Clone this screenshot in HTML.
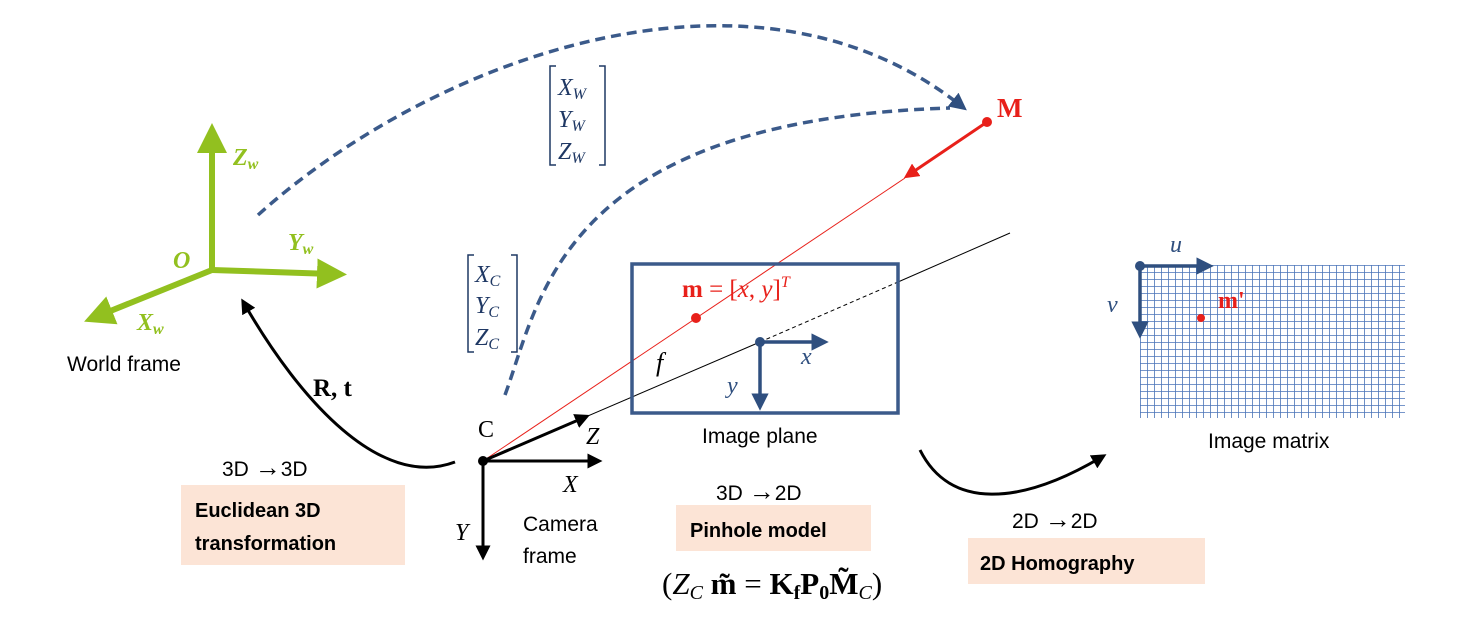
<!DOCTYPE html>
<html><head><meta charset="utf-8"><style>
body{margin:0;background:#fff;width:1461px;height:620px;overflow:hidden}
svg text{font-family:"Liberation Sans",sans-serif}
.s{font-family:"Liberation Serif",serif}
</style></head><body>
<svg width="1461" height="620" viewBox="0 0 1461 620" xmlns="http://www.w3.org/2000/svg">
<defs>
<marker id="ag" markerWidth="5" markerHeight="5" refX="2.5" refY="2.5" orient="auto" markerUnits="strokeWidth"><path d="M0,0L5,2.5L0,5z" fill="#92c01f"/></marker>
<marker id="ab" markerWidth="5" markerHeight="5" refX="2.5" refY="2.5" orient="auto" markerUnits="strokeWidth"><path d="M0,0L5,2.5L0,5z" fill="#2f4f7f"/></marker>
<marker id="ak" markerWidth="5" markerHeight="5" refX="2.5" refY="2.5" orient="auto" markerUnits="strokeWidth"><path d="M0,0L5,2.5L0,5z" fill="#000"/></marker>
<marker id="ar" markerWidth="5" markerHeight="5" refX="2.5" refY="2.5" orient="auto" markerUnits="strokeWidth"><path d="M0,0L5,2.5L0,5z" fill="#e8201a"/></marker>
<pattern id="grid" width="7" height="7" patternUnits="userSpaceOnUse" x="1140" y="265"><rect width="7" height="7" fill="#fff"/><path d="M0,0V7M0,0H7" stroke="#4a74b8" stroke-width="1.6"/></pattern>
</defs>
<g>
<line x1="212" y1="270" x2="212" y2="138" stroke="#92c01f" stroke-width="6" marker-end="url(#ag)"/>
<line x1="212" y1="270" x2="332" y2="274" stroke="#92c01f" stroke-width="6" marker-end="url(#ag)"/>
<line x1="212" y1="270" x2="98" y2="316" stroke="#92c01f" stroke-width="6" marker-end="url(#ag)"/>
<text class="s" x="233" y="165" font-size="24" font-weight="bold" font-style="italic" fill="#92c01f">Z<tspan font-size="16" dy="4">w</tspan></text>
<text class="s" x="288" y="250" font-size="24" font-weight="bold" font-style="italic" fill="#92c01f">Y<tspan font-size="16" dy="4">w</tspan></text>
<text class="s" x="173" y="268" font-size="24" font-weight="bold" font-style="italic" fill="#92c01f">O</text>
<text class="s" x="137" y="330" font-size="24" font-weight="bold" font-style="italic" fill="#92c01f">X<tspan font-size="16" dy="4">w</tspan></text>
<text x="67" y="371" font-size="21" fill="#000">World frame</text>
</g>
<path d="M258,215 C430,60 750,-60 960,105" fill="none" stroke="#3b5a8a" stroke-width="3.5" stroke-dasharray="10,6" marker-end="url(#ab)"/>
<path d="M505,395 C540,300 560,120 950,108" fill="none" stroke="#3b5a8a" stroke-width="3.5" stroke-dasharray="10,6"/>
<g fill="#1f3864">
<path d="M556,66H550V165H556M599,66H605V165H599" fill="none" stroke="#1f3864" stroke-width="1.5"/>
<text class="s" x="558" y="95" font-size="24" font-style="italic">X<tspan font-size="16" dy="4">W</tspan></text>
<text class="s" x="558" y="127" font-size="24" font-style="italic">Y<tspan font-size="16" dy="4">W</tspan></text>
<text class="s" x="558" y="159" font-size="24" font-style="italic">Z<tspan font-size="16" dy="4">W</tspan></text>
</g>
<g fill="#1f3864">
<path d="M474,255H468V352H474M511,255H517V352H511" fill="none" stroke="#1f3864" stroke-width="1.5"/>
<text class="s" x="475" y="282" font-size="24" font-style="italic">X<tspan font-size="16" dy="4">C</tspan></text>
<text class="s" x="475" y="313" font-size="24" font-style="italic">Y<tspan font-size="16" dy="4">C</tspan></text>
<text class="s" x="475" y="345" font-size="24" font-style="italic">Z<tspan font-size="16" dy="4">C</tspan></text>
</g>
<line x1="483" y1="461" x2="760" y2="342" stroke="#000" stroke-width="1"/>
<line x1="760" y1="342" x2="898" y2="282" stroke="#000" stroke-width="1" stroke-dasharray="4,3"/>
<line x1="898" y1="282" x2="1010" y2="233" stroke="#000" stroke-width="1"/>
<line x1="483" y1="461" x2="905" y2="178" stroke="#e8201a" stroke-width="1"/>
<line x1="987" y1="122" x2="910" y2="174" stroke="#e8201a" stroke-width="3" marker-end="url(#ar)"/>
<circle cx="987" cy="122" r="5" fill="#e8201a"/>
<text class="s" x="997" y="117" font-size="27" font-weight="bold" fill="#e8201a">M</text>
<rect x="632" y="264" width="266" height="149" fill="none" stroke="#3b5a8a" stroke-width="3.5"/>
<circle cx="696" cy="318" r="5" fill="#e8201a"/>
<text class="s" x="682" y="297" font-size="25" fill="#e8201a"><tspan font-weight="bold">m</tspan> = [<tspan font-style="italic">x</tspan>, <tspan font-style="italic">y</tspan>]<tspan font-size="16" dy="-10" font-style="italic">T</tspan></text>
<line x1="760" y1="342" x2="820" y2="342" stroke="#2f4f7f" stroke-width="3.5" marker-end="url(#ab)"/>
<line x1="760" y1="342" x2="760" y2="402" stroke="#2f4f7f" stroke-width="3.5" marker-end="url(#ab)"/>
<circle cx="760" cy="342" r="5" fill="#2f4f7f"/>
<text class="s" x="801" y="364" font-size="24" font-style="italic" fill="#2f4f7f">x</text>
<text class="s" x="727" y="393" font-size="24" font-style="italic" fill="#2f4f7f">y</text>
<text class="s" x="656" y="371" font-size="26" font-style="italic" fill="#000">f</text>
<text x="702" y="443" font-size="21" fill="#000">Image plane</text>
<g>
<line x1="483" y1="461" x2="583" y2="418" stroke="#000" stroke-width="3" marker-end="url(#ak)"/>
<line x1="483" y1="461" x2="595" y2="461" stroke="#000" stroke-width="3" marker-end="url(#ak)"/>
<line x1="483" y1="461" x2="483" y2="553" stroke="#000" stroke-width="3" marker-end="url(#ak)"/>
<circle cx="483" cy="461" r="5" fill="#000"/>
<text class="s" x="478" y="437" font-size="24">C</text>
<text class="s" x="586" y="444" font-size="24" font-style="italic">Z</text>
<text class="s" x="563" y="492" font-size="24" font-style="italic">X</text>
<text class="s" x="455" y="540" font-size="24" font-style="italic">Y</text>
<text x="523" y="531" font-size="21">Camera</text>
<text x="523" y="563" font-size="21">frame</text>
</g>
<path d="M455,462 C380,490 300,400 245,305" fill="none" stroke="#000" stroke-width="3" marker-end="url(#ak)"/>
<text class="s" x="313" y="396" font-size="25" font-weight="bold">R, t</text>
<path d="M920,450 C950,510 1020,505 1100,458" fill="none" stroke="#000" stroke-width="3" marker-end="url(#ak)"/>
<rect x="1140" y="265" width="265" height="153" fill="url(#grid)"/>
<line x1="1140" y1="266" x2="1205" y2="266" stroke="#2f4f7f" stroke-width="3.5" marker-end="url(#ab)"/>
<line x1="1140" y1="266" x2="1140" y2="330" stroke="#2f4f7f" stroke-width="3.5" marker-end="url(#ab)"/>
<circle cx="1140" cy="266" r="5" fill="#2f4f7f"/>
<text class="s" x="1170" y="252" font-size="24" font-style="italic" fill="#2f4f7f">u</text>
<text class="s" x="1107" y="312" font-size="24" font-style="italic" fill="#2f4f7f">v</text>
<circle cx="1201" cy="318" r="4" fill="#e8201a"/>
<text class="s" x="1218" y="308" font-size="24" font-weight="bold" fill="#e8201a">m'</text>
<text x="1208" y="448" font-size="21">Image matrix</text>
<text x="222" y="476" font-size="21">3D <tspan font-size="26" font-weight="bold">→</tspan>3D</text>
<rect x="181" y="485" width="224" height="80" fill="#fce4d6"/>
<text x="195" y="517" font-size="20" font-weight="bold">Euclidean 3D</text>
<text x="195" y="550" font-size="20" font-weight="bold">transformation</text>
<text x="716" y="500" font-size="21">3D <tspan font-size="26" font-weight="bold">→</tspan>2D</text>
<rect x="676" y="505" width="195" height="46" fill="#fce4d6"/>
<text x="690" y="537" font-size="20" font-weight="bold">Pinhole model</text>
<text class="s" x="662" y="594" font-size="31">(<tspan font-style="italic">Z</tspan><tspan font-size="20" dy="5" font-style="italic">C</tspan><tspan dy="-5" font-weight="bold"> m̃</tspan> = <tspan font-weight="bold">K</tspan><tspan font-size="20" dy="5" font-weight="bold">f</tspan><tspan dy="-5" font-weight="bold">P</tspan><tspan font-size="20" dy="5" font-weight="bold">0</tspan><tspan dy="-5" font-weight="bold">M̃</tspan><tspan font-size="20" dy="5" font-style="italic">C</tspan><tspan dy="-5">)</tspan></text>
<text x="1012" y="528" font-size="21">2D <tspan font-size="26" font-weight="bold">→</tspan>2D</text>
<rect x="968" y="538" width="237" height="46" fill="#fce4d6"/>
<text x="980" y="570" font-size="20" font-weight="bold">2D Homography</text>
</svg>
</body></html>
